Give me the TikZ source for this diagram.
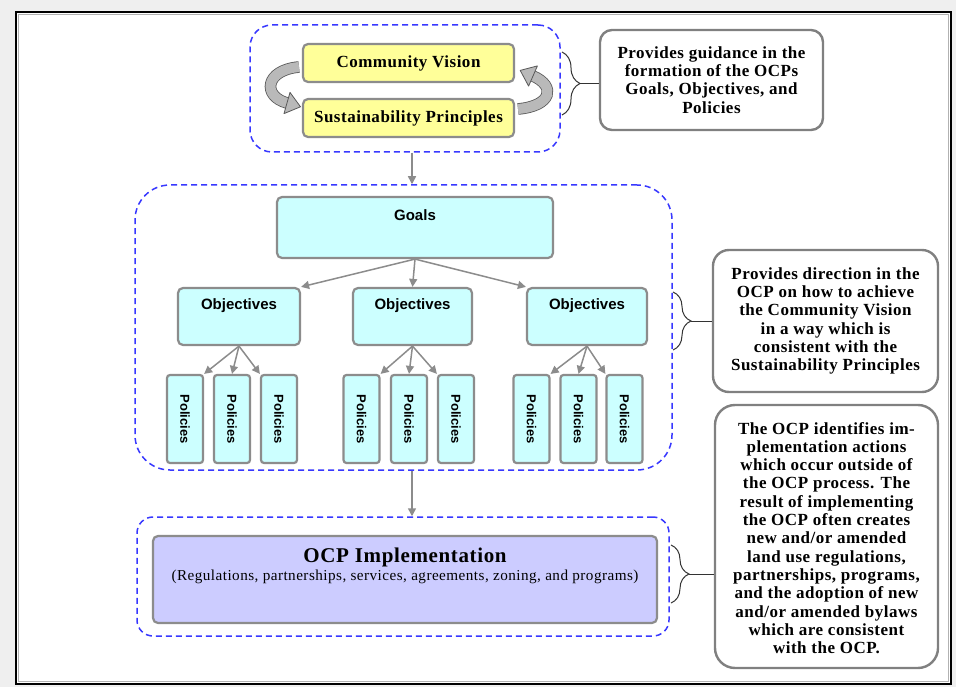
\documentclass[tikz,border=0pt]{standalone}
\usepackage{fontspec}
\usepackage{graphicx}
\setmainfont{Liberation Serif}
\newfontfamily\serifsp[LetterSpace=3]{Liberation Serif}
\newfontfamily\arialf{Liberation Sans}
\usetikzlibrary{arrows.meta,decorations.pathreplacing,calc}
\definecolor{bgc}{HTML}{EFEFEF}
\definecolor{dblue}{HTML}{3838FF}
\definecolor{yel}{HTML}{FFFF99}
\definecolor{cyn}{HTML}{CCFFFF}
\definecolor{lav}{HTML}{CCCCFF}
\definecolor{bgray}{HTML}{8C8C8C}
\definecolor{tgray}{HTML}{808080}
\begin{document}
\begin{tikzpicture}[x=1pt,y=-1pt,
  dashbox/.style={draw=dblue, dash pattern=on 6pt off 4pt, line width=1.5pt, rounded corners=#1, inner sep=0pt},
  colbox/.style={draw=bgray, line width=2.2pt, rounded corners=5pt, inner sep=0pt},
  txtbox/.style={draw=tgray, line width=2.4pt, rounded corners=#1, inner sep=0pt, fill=white},
  sertxt/.style={font=\serifsp\bfseries\fontsize{17}{18.3}\selectfont, align=center, inner sep=0pt},
  stxt/.style={font=\arialf\bfseries\fontsize{15}{17}\selectfont, inner sep=0pt},
  conn/.style={draw=bgray, line width=1.5pt, -{Triangle[length=8pt,width=8pt]}},
  bracel/.style={draw=black!80, line width=1pt, decorate, decoration={brace, amplitude=18pt}},
  blockar/.style={draw=black!65, line width=0.8pt, double=gray!55, double distance=10pt},
  blockhd/.style={draw=black!65, line width=0.8pt, fill=gray!55, line join=round}
]
% background and frame
\fill[bgc] (0,0) rectangle (956,687);
\draw[fill=white, draw=black, line width=2.5pt] (16,12) rectangle (951,684);
\draw[gray!60, line width=1pt] (18.5,14.5) rectangle (948.5,681.5);

% ---- top group
\node[dashbox=22, minimum width=310, minimum height=127] (topdash) at (405,88.5) {};
\node[colbox, fill=yel, minimum width=211, minimum height=38] (cv) at (408.5,63) {};
\node[sertxt] at (cv) {Community Vision};
\node[colbox, fill=yel, minimum width=211, minimum height=38] (sp) at (408.5,118) {};
\node[sertxt] at (sp) {Sustainability Principles};

% curved block arrows
\draw[blockar] (299,67) .. controls (265,70) and (262,96) .. (287,103);
\draw[blockhd] (284,113.6) -- (300.5,106.8) -- (290,92.4) -- cycle;
\draw[blockar] (518,109) .. controls (552,106) and (556,86) .. (533,76);
\draw[blockhd] (537.4,65.9) -- (520.2,70.4) -- (528.6,86.1) -- cycle;

\node[txtbox=12, minimum width=223, minimum height=100] (t1) at (711.5,80) {};
\node[sertxt] at (t1) {Provides guidance in the\\formation of the OCPs\\Goals, Objectives, and\\Policies};
\coordinate (b1t) at (562,52);
\coordinate (b1b) at (562,115);
\draw[bracel] (b1t) -- (b1b);
\coordinate (b1m) at ($(b1t)!0.5!(b1b)+(18,0)$);
\draw[black!80, line width=1pt] (b1m) -- (t1.west |- b1m);

% ---- middle group
\node[dashbox=35, minimum width=537, minimum height=285] (middash) at (403.5,327.5) {};
\coordinate (col) at (412,0);
\draw[conn] (col |- topdash.south) -- (col |- middash.north);

\node[colbox, fill=cyn, minimum width=276, minimum height=61] (goals) at (415,227.5) {};
\node[stxt] (goalst) at ($(goals.north)+(0,19)$) {Goals};

\node[colbox, fill=cyn, minimum width=122, minimum height=57] (o1) at (239,316.5) {};
\node[colbox, fill=cyn, minimum width=119, minimum height=57] (o2) at (412.5,316.5) {};
\node[colbox, fill=cyn, minimum width=120, minimum height=57] (o3) at (587,316.5) {};
\foreach \o in {o1,o2,o3}{
  \node[stxt] (\o t) at ($(\o.north)+(0,19)$) {Objectives};
}
\draw[conn] (goals.south) -- (o1.north east);
\draw[conn] (goals.south) -- (o2.north);
\draw[conn] (goals.south) -- (o3.north west);

\foreach \n/\x in {p11/185,p12/232,p13/279,p21/361.5,p22/409,p23/456,p31/531.5,p32/578.5,p33/624.5}{
  \node[colbox, fill=cyn, rounded corners=3pt, minimum width=36, minimum height=88,
        font=\arialf\bfseries\fontsize{13}{15}\selectfont] (\n) at (\x,419) {\rotatebox{-90}{Policies}};
}
\draw[conn] (o1.south) -- (p11.north east);
\draw[conn] (o1.south) -- (p12.north);
\draw[conn] (o1.south) -- (p13.north west);
\draw[conn] (o2.south) -- (p21.north east);
\draw[conn] (o2.south) -- (p22.north);
\draw[conn] (o2.south) -- (p23.north west);
\draw[conn] (o3.south) -- (p31.north east);
\draw[conn] (o3.south) -- (p32.north);
\draw[conn] (o3.south) -- (p33.north west);

\node[txtbox=16, minimum width=225, minimum height=142] (t2) at (825.5,321) {};
\node[sertxt] at (t2) {Provides direction in the\\OCP on how to achieve\\the Community Vision\\in a way which is\\consistent with the\\Sustainability Principles};
\coordinate (b2t) at (673,292);
\coordinate (b2b) at (673,350);
\draw[bracel] (b2t) -- (b2b);
\coordinate (b2m) at ($(b2t)!0.5!(b2b)+(18,0)$);
\draw[black!80, line width=1pt] (b2m) -- (t2.west |- b2m);

% ---- bottom group
\node[dashbox=16, minimum width=532, minimum height=119] (botdash) at (403,576.5) {};
\draw[conn] (col |- middash.south) -- (col |- botdash.north);
\node[colbox, fill=lav, minimum width=504, minimum height=87] (ocp) at (405,579.5) {};
\node[font=\serifsp\bfseries\fontsize{21}{23}\selectfont, inner sep=0pt] (ocpt) at (405,557) {OCP Implementation};
\node[font=\serifsp\fontsize{15.2}{17}\selectfont, inner sep=0pt] (ocps) at (405,577) {(Regulations, partnerships, services, agreements, zoning, and programs)};

\node[txtbox=20, minimum width=223, minimum height=263] (t3) at (826.5,536.5) {};
\node[sertxt] at ($(t3)+(0,1.5)$) {The OCP identifies im-\\plementation actions\\which occur outside of\\the OCP process. The\\result of implementing\\the OCP often creates\\new and/or amended\\land use regulations,\\partnerships, programs,\\and the adoption of new\\and/or amended bylaws\\which are consistent\\with the OCP.};
\coordinate (b3t) at (671,545);
\coordinate (b3b) at (671,603);
\draw[bracel] (b3t) -- (b3b);
\coordinate (b3m) at ($(b3t)!0.5!(b3b)+(18,0)$);
\draw[black!80, line width=1pt] (b3m) -- (t3.west |- b3m);
\end{tikzpicture}
\end{document}
